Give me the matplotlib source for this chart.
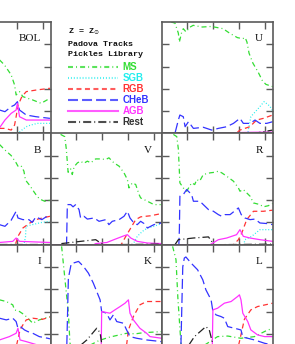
import matplotlib
matplotlib.use('Agg')
import matplotlib.pyplot as plt

# x: log(age), y: fractional contribution of each evolutionary phase
XLIM = (6.04, 10.31)
XTICKS = [7, 8, 9, 10]
YTICKS = [0.2, 0.4, 0.6, 0.8]

COMPONENTS = ['MS', 'SGB', 'RGB', 'CHeB', 'AGB', 'Rest']
HEADER = ['Z = Z$_{\\odot}$', 'Padova Tracks', 'Pickles Library']

# --- BOL ---
BOL_MS_X = [8.34, 8.53, 8.79, 8.92, 8.98, 9.11, 9.24, 9.62, 9.94, 10.28]
BOL_MS_Y = [0.66, 0.615, 0.525, 0.435, 0.345, 0.375, 0.33, 0.30, 0.27, 0.315]
BOL_SGB_X = [8.34, 9.05, 9.20, 9.37, 9.54, 9.80, 10.28]
BOL_SGB_Y = [0.0, 0.0, 0.03, 0.06, 0.075, 0.09, 0.09]
BOL_RGB_X = [8.34, 8.55, 8.79, 8.92, 8.98, 9.05, 9.20, 9.37, 9.77, 10.28]
BOL_RGB_Y = [0.045, 0.045, 0.03, 0.075, 0.15, 0.25, 0.33, 0.375, 0.39, 0.405]
BOL_CHEB_X = [8.34, 8.55, 8.79, 8.92, 9.03, 9.11, 9.37, 9.74, 10.28]
BOL_CHEB_Y = [0.21, 0.195, 0.24, 0.255, 0.285, 0.21, 0.165, 0.15, 0.135]
BOL_AGB_X = [8.34, 8.55, 8.79, 8.98, 9.03, 9.11, 9.37, 9.74, 10.28]
BOL_AGB_Y = [0.05, 0.12, 0.18, 0.21, 0.27, 0.15, 0.12, 0.12, 0.12]
BOL_REST_X = [8.34, 10.28]
BOL_REST_Y = [0.005, 0.005]

# --- U ---
U_MS_X = [6.40, 6.55, 6.68, 6.72, 6.80, 6.87, 6.98, 7.10, 7.25, 7.60, 7.95, 8.40,
          8.65, 8.95, 9.15, 9.25, 9.32, 9.40, 9.55, 9.75, 9.92, 10.05, 10.31]
U_MS_Y = [1.00, 0.99, 0.90, 0.82, 0.90, 0.94, 0.91, 0.95, 0.97, 0.955, 0.96, 0.94,
          0.90, 0.86, 0.85, 0.86, 0.82, 0.72, 0.63, 0.55, 0.47, 0.44, 0.42]
U_SGB_X = [6.04, 9.35, 9.47, 9.76, 9.98, 10.20, 10.31]
U_SGB_Y = [0.0, 0.0, 0.15, 0.225, 0.285, 0.245, 0.20]
U_RGB_X = [6.04, 8.90, 9.05, 9.43, 9.69, 9.95, 10.31]
U_RGB_Y = [0.0, 0.0, 0.03, 0.06, 0.12, 0.135, 0.165]
U_CHEB_X = [6.04, 6.55, 6.68, 6.74, 6.87, 6.94, 7.07, 7.26, 7.64, 7.96, 8.22, 8.54,
            8.80, 9.05, 9.18, 9.44, 9.63, 9.82, 10.08, 10.31]
U_CHEB_Y = [0.0, 0.0, 0.12, 0.165, 0.15, 0.06, 0.105, 0.045, 0.055, 0.03, 0.045, 0.06,
            0.09, 0.135, 0.09, 0.09, 0.12, 0.09, 0.09, 0.105]
U_AGB_X = [6.04, 8.50, 9.50, 10.31]
U_AGB_Y = [0.0, 0.005, 0.01, 0.012]
U_REST_X = [6.04, 9.60, 10.31]
U_REST_Y = [0.0, 0.0, 0.03]

# --- B ---
B_MS_X = [8.34, 8.55, 8.79, 8.98, 9.05, 9.17, 9.28, 9.34, 9.51, 9.68, 9.74, 9.88, 10.08, 10.28]
B_MS_Y = [0.90, 0.85, 0.80, 0.735, 0.705, 0.71, 0.66, 0.58, 0.53, 0.47, 0.45, 0.41, 0.39, 0.40]
B_SGB_X = [8.34, 9.28, 9.34, 9.36, 9.60, 9.97, 10.28]
B_SGB_Y = [0.0, 0.0, 0.07, 0.165, 0.18, 0.20, 0.21]
B_RGB_X = [8.34, 8.95, 9.05, 9.24, 9.51, 9.74, 9.99, 10.28]
B_RGB_Y = [0.0, 0.0, 0.075, 0.15, 0.195, 0.225, 0.24, 0.255]
B_CHEB_X = [8.34, 8.55, 8.79, 8.98, 9.05, 9.24, 9.47, 9.60, 9.74, 9.97, 10.20, 10.28]
B_CHEB_Y = [0.18, 0.165, 0.22, 0.30, 0.24, 0.225, 0.225, 0.20, 0.25, 0.225, 0.26, 0.255]
B_AGB_X = [8.34, 8.85, 8.98, 9.11, 10.28]
B_AGB_Y = [0.02, 0.03, 0.06, 0.03, 0.02]
B_REST_X = [8.34, 10.28]
B_REST_Y = [0.005, 0.005]

# --- V ---
V_MS_X = [6.42, 6.58, 6.64, 6.71, 6.81, 6.87, 6.94, 7.07, 7.19, 7.31, 7.45, 7.58, 7.77, 7.96,
          8.16, 8.28, 8.47, 8.67, 8.86, 8.99, 9.05, 9.18, 9.31, 9.44, 9.50, 9.76, 10.01, 10.27]
V_MS_Y = [0.99, 0.97, 0.86, 0.65, 0.68, 0.63, 0.70, 0.735, 0.75, 0.73, 0.75, 0.735, 0.77, 0.77,
          0.765, 0.78, 0.735, 0.705, 0.645, 0.585, 0.51, 0.555, 0.54, 0.45, 0.42, 0.39, 0.36, 0.36]
V_SGB_X = [6.04, 9.20, 9.37, 9.57, 9.76, 10.01, 10.31]
V_SGB_Y = [0.0, 0.0, 0.075, 0.12, 0.15, 0.165, 0.19]
V_RGB_X = [6.04, 8.75, 8.93, 9.12, 9.31, 9.50, 9.89, 10.31]
V_RGB_Y = [0.0, 0.0, 0.075, 0.15, 0.225, 0.25, 0.26, 0.28]
V_CHEB_X = [6.04, 6.65, 6.68, 6.81, 6.90, 7.00, 7.13, 7.19, 7.32, 7.45, 7.71, 7.90, 8.16,
            8.28, 8.41, 8.67, 8.86, 8.99, 9.09, 9.24, 9.37, 9.50, 9.63, 9.76, 10.01, 10.31]
V_CHEB_Y = [0.0, 0.0, 0.36, 0.36, 0.34, 0.36, 0.315, 0.24, 0.255, 0.23, 0.24, 0.21, 0.225,
            0.18, 0.21, 0.225, 0.255, 0.30, 0.24, 0.195, 0.18, 0.21, 0.19, 0.15, 0.18, 0.195]
V_AGB_X = [6.04, 7.70, 7.77, 8.20, 8.47, 8.86, 8.99, 9.12, 9.37, 9.76, 10.31]
V_AGB_Y = [0.0, 0.0, 0.01, 0.02, 0.045, 0.08, 0.09, 0.06, 0.03, 0.015, 0.01]
V_REST_X = [6.45, 7.19, 7.77, 7.96, 8.10, 10.31]
V_REST_Y = [0.01, 0.03, 0.045, 0.015, 0.0, 0.005]

# --- R ---
R_MS_X = [6.49, 6.62, 6.68, 6.74, 6.87, 7.00, 7.19, 7.31, 7.39, 7.50, 7.64, 7.90, 8.08, 8.22,
          8.35, 8.54, 8.80, 8.99, 9.05, 9.18, 9.31, 9.44, 9.57, 9.82, 9.95, 10.14, 10.31]
R_MS_Y = [0.99, 0.97, 0.86, 0.555, 0.51, 0.48, 0.555, 0.54, 0.585, 0.57, 0.63, 0.645, 0.65, 0.66,
          0.645, 0.615, 0.57, 0.51, 0.48, 0.495, 0.465, 0.435, 0.375, 0.36, 0.34, 0.35, 0.37]
R_SGB_X = [6.04, 9.20, 9.24, 9.50, 9.82, 10.31]
R_SGB_Y = [0.0, 0.0, 0.045, 0.075, 0.135, 0.135]
R_RGB_X = [6.04, 8.80, 8.99, 9.12, 9.31, 9.57, 9.95, 10.31]
R_RGB_Y = [0.0, 0.0, 0.045, 0.105, 0.225, 0.30, 0.30, 0.31]
R_CHEB_X = [6.04, 6.70, 6.72, 6.74, 6.87, 7.00, 7.19, 7.26, 7.51, 7.64, 7.84, 8.03, 8.22,
            8.35, 8.47, 8.67, 8.99, 9.10, 9.24, 9.44, 9.63, 9.82, 10.08, 10.31]
R_CHEB_Y = [0.0, 0.0, 0.135, 0.435, 0.45, 0.495, 0.45, 0.39, 0.39, 0.36, 0.315, 0.30, 0.27,
            0.255, 0.27, 0.27, 0.33, 0.27, 0.24, 0.225, 0.23, 0.195, 0.19, 0.18]
R_AGB_X = [6.04, 7.90, 8.22, 8.54, 8.92, 9.05, 9.18, 9.44, 9.82, 10.31]
R_AGB_Y = [0.0, 0.0, 0.045, 0.06, 0.09, 0.135, 0.075, 0.06, 0.045, 0.03]
R_REST_X = [6.55, 6.68, 7.26, 7.84, 7.96, 8.05, 10.31]
R_REST_Y = [0.0, 0.045, 0.06, 0.07, 0.03, 0.0, 0.005]

# --- I ---
I_MS_X = [8.34, 8.60, 8.85, 8.92, 9.11, 9.30, 9.43, 9.62, 9.87, 10.28]
I_MS_Y = [0.505, 0.49, 0.46, 0.415, 0.40, 0.37, 0.34, 0.295, 0.325, 0.355]
I_SGB_X = [8.34, 10.28]
I_SGB_Y = [0.0, 0.02]
I_RGB_X = [8.34, 8.95, 9.13, 9.24, 9.37, 9.62, 9.99, 10.28]
I_RGB_Y = [0.0, 0.05, 0.235, 0.28, 0.325, 0.34, 0.33, 0.35]
I_CHEB_X = [8.34, 8.60, 8.85, 8.98, 9.05, 9.17, 9.30, 9.43, 9.62, 9.87, 10.20, 10.28]
I_CHEB_Y = [0.34, 0.325, 0.34, 0.31, 0.25, 0.26, 0.235, 0.22, 0.205, 0.175, 0.16, 0.155]
I_AGB_X = [8.34, 8.72, 8.98, 9.05, 9.13, 9.37, 9.80, 10.28]
I_AGB_Y = [0.145, 0.175, 0.205, 0.25, 0.145, 0.13, 0.10, 0.09]
I_REST_X = [8.34, 10.28]
I_REST_Y = [0.0, 0.01]

# --- K ---
K_MS_X = [6.46, 6.59, 6.72, 6.78, 6.85, 7.40, 7.90, 8.30, 8.96, 9.30, 9.60, 10.31]
K_MS_Y = [0.985, 0.685, 0.39, 0.12, 0.05, 0.08, 0.14, 0.17, 0.205, 0.20, 0.21, 0.22]
K_SGB_X = [6.04, 9.30, 10.31]
K_SGB_Y = [0.0, 0.0, 0.05]
K_RGB_X = [6.04, 8.80, 8.96, 9.03, 9.22, 9.47, 9.73, 10.31]
K_RGB_Y = [0.0, 0.0, 0.10, 0.235, 0.355, 0.46, 0.49, 0.49]
K_CHEB_X = [6.04, 6.64, 6.66, 6.72, 6.83, 6.91, 7.11, 7.30, 7.49, 7.68, 7.81, 7.94, 8.00,
            8.19, 8.32, 8.45, 8.58, 8.84, 8.96, 9.09, 9.35, 9.73, 10.31]
K_CHEB_Y = [0.0, 0.0, 0.10, 0.70, 0.83, 0.835, 0.85, 0.805, 0.745, 0.655, 0.58, 0.505, 0.40,
            0.385, 0.325, 0.37, 0.31, 0.295, 0.235, 0.175, 0.16, 0.145, 0.13]
K_AGB_X = [6.04, 7.98, 8.00, 8.32, 8.51, 8.71, 8.90, 9.03, 9.09, 9.22, 9.47, 9.73, 9.86, 10.31]
K_AGB_Y = [0.0, 0.0, 0.40, 0.385, 0.415, 0.445, 0.475, 0.505, 0.385, 0.325, 0.25, 0.205, 0.175, 0.16]
K_REST_X = [6.70, 7.43, 7.81, 7.94, 8.00, 8.10, 10.31]
K_REST_Y = [0.0, 0.145, 0.25, 0.21, 0.115, 0.02, 0.02]

# --- L ---
L_MS_X = [6.46, 6.59, 6.66, 6.74, 6.78, 6.90, 7.50, 8.19, 8.58, 9.09, 9.61, 10.12, 10.31]
L_MS_Y = [0.985, 0.865, 0.53, 0.25, 0.115, 0.05, 0.07, 0.175, 0.18, 0.16, 0.175, 0.235, 0.245]
L_SGB_X = [6.04, 9.30, 10.31]
L_SGB_Y = [0.0, 0.0, 0.05]
L_RGB_X = [6.04, 8.90, 9.05, 9.22, 9.47, 9.73, 10.31]
L_RGB_Y = [0.0, 0.0, 0.15, 0.33, 0.415, 0.445, 0.475]
L_CHEB_X = [6.04, 6.76, 6.78, 6.85, 6.91, 6.97, 7.17, 7.42, 7.62, 7.74, 7.94, 8.00, 8.13,
            8.32, 8.45, 8.58, 8.84, 9.09, 9.16, 9.35, 9.61, 10.00, 10.31]
L_CHEB_Y = [0.0, 0.0, 0.10, 0.80, 0.88, 0.89, 0.835, 0.775, 0.685, 0.595, 0.505, 0.415, 0.37,
            0.355, 0.34, 0.265, 0.25, 0.235, 0.17, 0.16, 0.145, 0.115, 0.10]
L_AGB_X = [6.04, 7.98, 8.01, 8.19, 8.45, 8.71, 8.96, 9.03, 9.09, 9.16, 9.35, 9.47, 9.73, 10.00, 10.31]
L_AGB_Y = [0.0, 0.0, 0.415, 0.43, 0.475, 0.49, 0.535, 0.55, 0.505, 0.385, 0.31, 0.235, 0.19, 0.175, 0.175]
L_REST_X = [6.80, 7.30, 7.74, 7.87, 8.00, 8.10, 10.31]
L_REST_Y = [0.0, 0.175, 0.265, 0.235, 0.115, 0.03, 0.02]

# line styles (dash lengths in points)
STYLE = {
    'MS':   dict(color='#33dd33', ls=(0, (3.6, 2.2, 0.7, 2.2))),
    'SGB':  dict(color='#22eeee', ls=(0, (0.7, 1.4))),
    'RGB':  dict(color='#ff3333', ls=(0, (3.6, 2.5))),
    'CHeB': dict(color='#3333ff', ls=(0, (7.2, 2.9))),
    'AGB':  dict(color='#ff33ff', ls='-'),
    'Rest': dict(color='#222222', ls=(0, (5.8, 2.2, 0.7, 2.2))),
}
LEGEND_TEXT_COLOR = {'Rest': '#333333'}

g = globals()
PANELS = []  # (band, row, col, {component: (x, y)})
for band, row, col in [('BOL', 0, 0), ('U', 0, 2), ('B', 1, 0), ('V', 1, 1),
                       ('R', 1, 2), ('I', 2, 0), ('K', 2, 1), ('L', 2, 2)]:
    curves = {c: (g[f'{band}_{c.upper()}_X'], g[f'{band}_{c.upper()}_Y']) for c in COMPONENTS}
    PANELS.append((band, row, col, curves))

# page geometry in pixels (the figure shows a crop of a larger grid)
W, H = 295, 344
COL_X = [-60.3, 50.7, 161.7]
ROW_Y = [22.0, 133.3, 244.7]
PW, PH = 111.0, 111.4
FRAME = '#5a5a5a'

plt.rcParams['lines.scale_dashes'] = False

fig = plt.figure(figsize=(W / 100, H / 100), dpi=100)


def slot(row, col):
    return [COL_X[col] / W, (H - ROW_Y[row] - PH) / H, PW / W, PH / H]


for band, row, col, curves in PANELS:
    ax = fig.add_axes(slot(row, col))
    for comp in COMPONENTS:
        x, y = curves[comp]
        st = STYLE[comp]
        ax.plot(x, y, color=st['color'], linestyle=st['ls'], lw=0.9)
    ax.set_xlim(*XLIM)
    ax.set_ylim(0, 1)
    ax.set_xticks(XTICKS)
    ax.set_yticks(YTICKS)
    ax.tick_params(direction='in', length=5.2, width=1.0, color=FRAME,
                   top=True, right=True, labelbottom=False, labelleft=False)
    for sp in ax.spines.values():
        sp.set_color(FRAME)
        sp.set_linewidth(1.2)
    ax.text(0.91, 0.85, band, transform=ax.transAxes, ha='right', va='center',
            fontsize=8, family='Liberation Serif', color='#111111')

# legend block in the empty top-middle slot
lax = fig.add_axes(slot(0, 1))
lax.set_xlim(0, 1)
lax.set_ylim(0, 1)
lax.axis('off')
for txt, yy in zip(HEADER, [0.915, 0.80, 0.71]):
    lax.text(0.16, yy, txt, ha='left', va='center', fontsize=6,
             family='Liberation Mono', fontweight='bold', color='#111111')
for comp, yy in zip(COMPONENTS, [0.60, 0.50, 0.40, 0.30, 0.20, 0.10]):
    st = STYLE[comp]
    lax.plot([0.16, 0.61], [yy, yy], color=st['color'], linestyle=st['ls'],
             lw=1.5, alpha=0.8)
    lax.text(0.65, yy, comp, ha='left', va='center', fontsize=7,
             family='Liberation Sans', fontweight='bold',
             color=LEGEND_TEXT_COLOR.get(comp, st['color']))

fig.savefig('out.png', dpi=100)
